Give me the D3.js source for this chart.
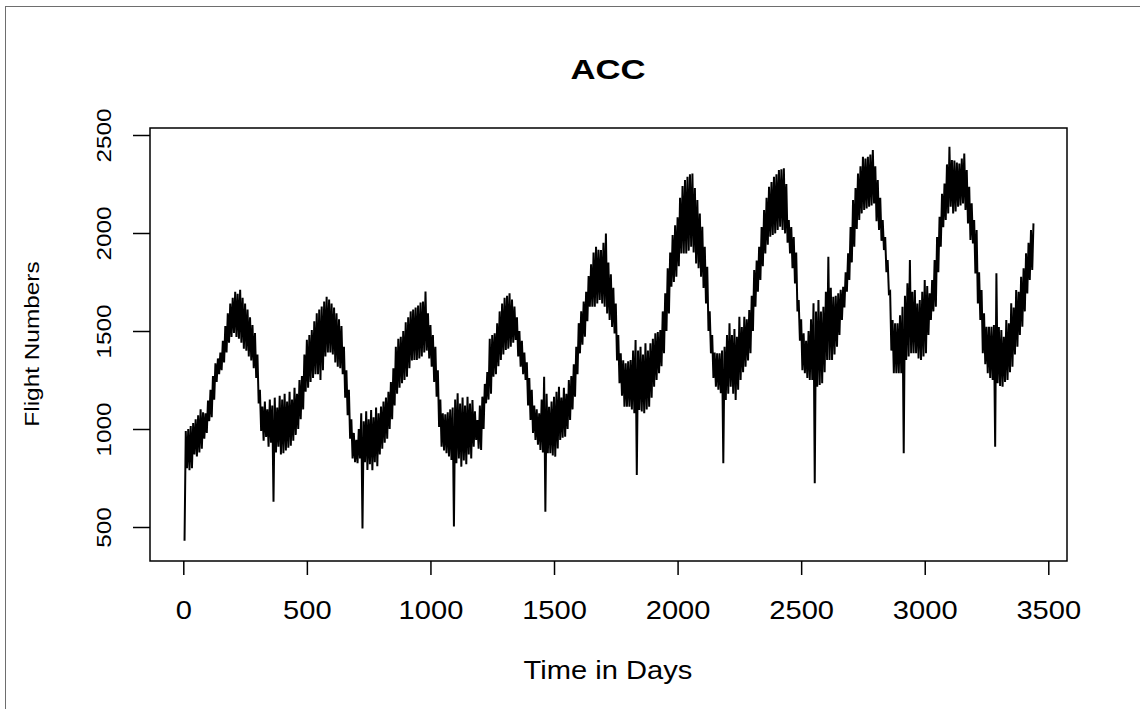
<!DOCTYPE html>
<meta charset="utf-8">
<script src="https://d3js.org/d3.v7.min.js"></script>
<style>
  body { margin: 0; background: #fff; }
  text { font-family: "Liberation Sans", Arial, sans-serif; fill: #000; }
</style>
<body>
<svg width="1140" height="709"></svg>
<script>
// daily flight counts: the weekly low (days 5, 15, 25 ...)
// and the weekly high (days 10, 20, 30 ...) of the band, one row per 100 days
var lowDays0 = 5, highDays0 = 10, stepDays = 10;
var flightsLow = [
  430, 800, 790, 800, 870, 860, 880, 900, 950, 980,
  1040, 1060, 1150, 1240, 1280, 1300, 1340, 1390, 1440, 1470,
  1490, 1470, 1460, 1440, 1410, 1400, 1370, 1350, 1310, 1260,
  1130, 990, 940, 960, 910, 930, 629, 880, 910, 870,
  876, 890, 905, 915, 940, 970, 1000, 1050, 1100, 1190,
  1210, 1240, 1260, 1280, 1280, 1250, 1300, 1370, 1390, 1390,
  1380, 1340, 1318, 1310, 1280, 1160, 1070, 950, 850, 830,
  825, 850, 493, 830, 791, 820, 790, 830, 810, 870,
  900, 930, 950, 1000, 1050, 1120, 1180, 1210, 1233, 1250,
  1267, 1310, 1350, 1352, 1352, 1360, 1370, 1390, 1400, 1360,
  1318, 1240, 1165, 1010, 910, 890, 876, 860, 842, 502,
  825, 850, 808, 840, 820, 870, 850, 910, 944, 900,
  893, 1000, 1131, 1150, 1180, 1267, 1280, 1320, 1352, 1380,
  1403, 1410, 1420, 1440, 1454, 1370, 1318, 1280, 1250, 1120,
  1046, 980, 944, 920, 893, 880, 578, 876, 876, 865,
  859, 900, 944, 955, 961, 1000, 1046, 1100, 1165, 1280,
  1386, 1430, 1471, 1550, 1624, 1624, 1624, 1640, 1658, 1640,
  1624, 1590, 1556, 1520, 1488, 1350, 1233, 1170, 1114, 1114,
  1114, 1100, 1080, 765, 1097, 1090, 1080, 1100, 1114, 1160,
  1216, 1250, 1284, 1320, 1386, 1500, 1590, 1726, 1750, 1777,
  1830, 1896, 1896, 1896, 1910, 1930, 1900, 1845, 1820, 1777,
  1720, 1641, 1500, 1386, 1260, 1216, 1200, 1182, 825, 1148,
  1180, 1216, 1180, 1148, 1200, 1250, 1290, 1318, 1350, 1386,
  1500, 1624, 1700, 1760, 1830, 1896, 1940, 1981, 1990, 1998,
  2015, 2032, 2015, 1998, 1950, 1896, 1820, 1743, 1600, 1450,
  1300, 1284, 1260, 1250, 1250, 723, 1216, 1225, 1233, 1290,
  1352, 1352, 1352, 1380, 1420, 1480, 1556, 1620, 1700, 1760,
  1850, 1930, 2020, 2066, 2100, 2117, 2125, 2134, 2140, 2151,
  2060, 2015, 1960, 1913, 1800, 1692, 1400, 1284, 1284, 1284,
  1284, 876, 1352, 1370, 1386, 1386, 1386, 1360, 1352, 1370,
  1386, 1480, 1556, 1600, 1624, 1800, 1930, 2030, 2066, 2100,
  2134, 2100, 2110, 2134, 2140, 2151, 2117, 2049, 1964, 1947,
  1794, 1640, 1556, 1386, 1330, 1284, 1260, 1250, 910, 1233,
  1220, 1216, 1240, 1250, 1290, 1318, 1380, 1420, 1480, 1522,
  1600, 1692, 1760, 1811
];
var flightsHigh = [
  990, 1000, 1015, 1030, 1050, 1070, 1100, 1085, 1080, 1145,
  1200, 1270, 1335, 1360, 1390, 1450, 1525, 1590, 1640, 1670,
  1700, 1690, 1710, 1670, 1640, 1610, 1570, 1530, 1490, 1380,
  1200, 1114, 1140, 1100, 1150, 1120, 1160, 1110, 1170, 1150,
  1180, 1140, 1190, 1150, 1210, 1180, 1250, 1270, 1380, 1455,
  1480, 1505, 1550, 1590, 1610, 1625, 1650, 1675, 1660, 1640,
  1620, 1590, 1560, 1525, 1420, 1300, 1200, 1050, 980, 945,
  1000, 1080, 1040, 1090, 1050, 1097, 1060, 1110, 1080, 1115,
  1140, 1160, 1190, 1240, 1310, 1420, 1460, 1470, 1500, 1545,
  1570, 1600, 1610, 1620, 1630, 1645, 1650, 1701, 1590, 1530,
  1480, 1420, 1300, 1150, 1080, 1075, 1085, 1100, 1110, 1150,
  1182, 1130, 1160, 1120, 1165, 1130, 1148, 1090, 1046, 1120,
  1165, 1230, 1290, 1460, 1480, 1488, 1540, 1600, 1640, 1670,
  1680, 1692, 1660, 1625, 1570, 1500, 1450, 1390, 1340, 1260,
  1200, 1120, 1100, 1080, 1150, 1267, 1180, 1114, 1140, 1165,
  1190, 1216, 1160, 1210, 1180, 1250, 1270, 1330, 1420, 1540,
  1600, 1650, 1700, 1780, 1840, 1900, 1930, 1915, 1913, 1950,
  1998, 1850, 1790, 1720, 1640, 1480, 1386, 1350, 1335, 1345,
  1352, 1400, 1454, 1400, 1420, 1380, 1437, 1400, 1437, 1460,
  1488, 1495, 1505, 1600, 1692, 1820, 1900, 1990, 2040, 2080,
  2180, 2240, 2270, 2287, 2300, 2304, 2230, 2168, 2100, 2032,
  1930, 1828, 1600, 1480, 1390, 1386, 1386, 1400, 1420, 1480,
  1539, 1480, 1510, 1470, 1573, 1520, 1573, 1560, 1607, 1680,
  1811, 1860, 1930, 2030, 2117, 2180, 2236, 2260, 2287, 2300,
  2321, 2325, 2330, 2250, 2066, 2030, 1980, 1900, 1658, 1560,
  1488, 1450, 1500, 1560, 1641, 1600, 1658, 1600, 1624, 1700,
  1879, 1720, 1675, 1680, 1692, 1710, 1726, 1800, 1896, 2030,
  2168, 2230, 2304, 2340, 2389, 2380, 2389, 2400, 2423, 2340,
  2270, 2180, 2066, 1980, 1862, 1700, 1556, 1540, 1539, 1580,
  1624, 1680, 1743, 1862, 1700, 1709, 1640, 1658, 1700, 1760,
  1730, 1692, 1760, 1862, 1980, 2083, 2200, 2253, 2350, 2440,
  2372, 2370, 2360, 2355, 2380, 2406, 2321, 2236, 2151, 2066,
  2015, 1800, 1709, 1590, 1522, 1522, 1522, 1530, 1794, 1520,
  1505, 1470, 1556, 1540, 1641, 1620, 1709, 1700, 1777, 1820,
  1896, 1950, 2015, 2049
];
var xTicks = [0, 500, 1000, 1500, 2000, 2500, 3000, 3500];
var yTicks = [500, 1000, 1500, 2000, 2500];

var series = [];
for (var i = 0; i < flightsLow.length; i++) {
  series.push({day: lowDays0 + i * stepDays, value: flightsLow[i]});
  series.push({day: highDays0 + i * stepDays, value: flightsHigh[i]});
}

var svg = d3.select("svg");

// outer frame of the original image
svg.append("rect")
    .attr("x", 5.5).attr("y", 6.5)
    .attr("width", 1140).attr("height", 720)
    .attr("fill", "none")
    .attr("stroke", "#6e6e6e")
    .attr("stroke-width", 1);

var box = {left: 150, top: 128, right: 1067, bottom: 561};

var x = d3.scaleLinear().domain([0, 3500]).range([183.3, 1048.3]);
var y = d3.scaleLinear().domain([500, 2500]).range([527, 135]);

var line = d3.line()
    .x(function(d) { return x(d.day); })
    .y(function(d) { return y(d.value); });

svg.append("path")
    .datum(series)
    .attr("fill", "none")
    .attr("stroke", "#000")
    .attr("stroke-width", 2)
    .attr("stroke-linejoin", "miter")
    .attr("d", line);

// plot box
svg.append("rect")
    .attr("x", box.left).attr("y", box.top)
    .attr("width", box.right - box.left).attr("height", box.bottom - box.top)
    .attr("fill", "none")
    .attr("stroke", "#000")
    .attr("stroke-width", 1.5);

// x axis
var gx = svg.append("g")
    .attr("transform", "translate(0," + box.bottom + ")")
    .call(d3.axisBottom(x).tickValues(xTicks).tickSize(14).tickFormat(d3.format("d")));
gx.select(".domain").remove();
gx.selectAll(".tick line").attr("stroke", "#000").attr("stroke-width", 1.5);
gx.selectAll(".tick text")
    .attr("y", null).attr("dy", null)
    .attr("font-size", 26)
    .attr("font-family", "Liberation Sans, Arial, sans-serif")
    .attr("text-anchor", "middle")
    .attr("transform", "translate(0,58) scale(1.12,1)");

// y axis
var gy = svg.append("g")
    .attr("transform", "translate(" + box.left + ",0)")
    .call(d3.axisLeft(y).tickValues(yTicks).tickSize(17).tickFormat(d3.format("d")));
gy.select(".domain").remove();
gy.selectAll(".tick line").attr("stroke", "#000").attr("stroke-width", 1.5);
gy.selectAll(".tick text")
    .attr("x", null).attr("dy", null)
    .attr("font-size", 20)
    .attr("font-family", "Liberation Sans, Arial, sans-serif")
    .attr("text-anchor", "middle")
    .attr("transform", "translate(-39,0) rotate(-90) scale(1.22,1)");

// titles
svg.append("text")
    .attr("transform", "translate(608,79) scale(1.24,1)")
    .attr("text-anchor", "middle")
    .attr("font-size", 28)
    .attr("font-weight", "bold")
    .text("ACC");

svg.append("text")
    .attr("transform", "translate(608,679) scale(1.12,1)")
    .attr("text-anchor", "middle")
    .attr("font-size", 26)
    .text("Time in Days");

svg.append("text")
    .attr("transform", "translate(39,344) rotate(-90) scale(1.22,1)")
    .attr("text-anchor", "middle")
    .attr("font-size", 20)
    .text("Flight Numbers");
</script>
</body>
